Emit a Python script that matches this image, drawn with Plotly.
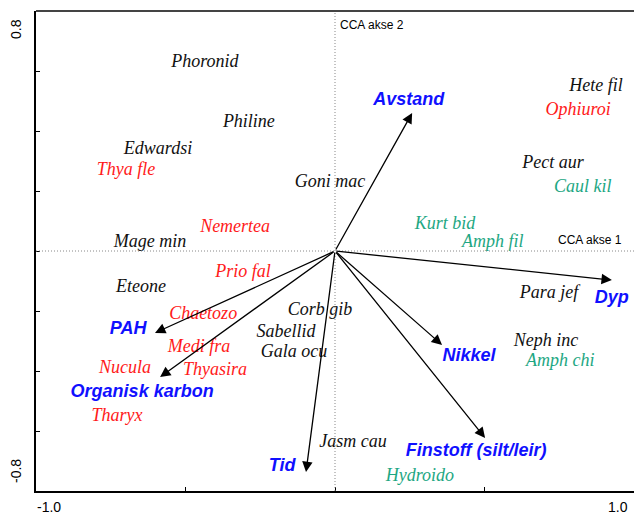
import plotly.graph_objects as go

# species scores (CCA axis 1, axis 2)
species = ["Phoronid", "Philine", "Edwardsi", "Thya fle", "Goni mac", "Nemertea",
           "Mage min", "Prio fal", "Eteone", "Chaetozo", "Corb gib", "Sabellid",
           "Medi fra", "Gala ocu", "Nucula", "Thyasira", "Tharyx", "Jasm cau",
           "Hydroido", "Hete fil", "Ophiuroi", "Pect aur", "Caul kil", "Kurt bid",
           "Amph fil", "Para jef", "Neph inc", "Amph chi"]
species_x = [-0.435, -0.288, -0.592, -0.699, -0.017, -0.334, -0.619, -0.308, -0.649,
             -0.441, -0.050, -0.164, -0.455, -0.137, -0.702, -0.401, -0.729, 0.060,
             0.284, 0.873, 0.813, 0.729, 0.829, 0.368, 0.528, 0.716, 0.706, 0.753]
species_y = [0.627, 0.427, 0.337, 0.270, 0.227, 0.077, 0.030, -0.070, -0.123,
             -0.213, -0.197, -0.273, -0.323, -0.337, -0.393, -0.397, -0.550, -0.637,
             -0.753, 0.547, 0.467, 0.293, 0.213, 0.090, 0.027, -0.140, -0.300, -0.367]
species_group = ["k", "k", "k", "r", "k", "r", "k", "r", "k", "r", "k", "k", "r", "k",
                 "r", "r", "r", "k", "g", "k", "r", "k", "g", "g", "g", "k", "k", "g"]

# environmental variables: arrow tips and label positions
env = ["Avstand", "Dyp", "PAH", "Organisk karbon", "Tid", "Nikkel", "Finstoff (silt/leir)"]
env_x = [0.258, 0.926, -0.602, -0.585, -0.097, 0.358, 0.502]
env_y = [0.460, -0.097, -0.273, -0.420, -0.737, -0.313, -0.623]
env_label_x = [0.247, 0.926, -0.692, -0.645, -0.177, 0.448, 0.472]
env_label_y = [0.503, -0.157, -0.260, -0.470, -0.717, -0.353, -0.667]

GROUP_COLOURS = {"k": "#111111", "r": "#ff1a1a", "g": "#1ea783"}

fig = go.Figure()

for grp, col in GROUP_COLOURS.items():
  idx = [i for i, g in enumerate(species_group) if g == grp]
  fig.add_trace(go.Scatter(
      x=[species_x[i] for i in idx], y=[species_y[i] for i in idx],
      text=[species[i] for i in idx], mode="text",
      textfont=dict(family="Liberation Serif", size=18, color=col, style="italic"),
      hoverinfo="skip", showlegend=False))

fig.add_trace(go.Scatter(
    x=env_label_x, y=env_label_y, text=env, mode="text",
    textfont=dict(family="Liberation Sans", size=18, color="#1010ff",
                  style="italic", weight="bold"),
    hoverinfo="skip", showlegend=False))

for ex, ey in zip(env_x, env_y):
  fig.add_annotation(x=ex, y=ey, ax=0, ay=0, xref="x", yref="y", axref="x", ayref="y",
                     text="", showarrow=True, arrowhead=2, arrowsize=1.6,
                     arrowwidth=1.3, arrowcolor="black")

# axis cross lines
fig.add_shape(type="line", x0=0, x1=0, y0=-0.8, y1=0.8,
              line=dict(color="#888888", width=1, dash="1px,2px"))
fig.add_shape(type="line", x0=-1, x1=1, y0=0, y1=0,
              line=dict(color="#888888", width=1, dash="1px,2px"))
# top border
fig.add_shape(type="line", xref="paper", yref="paper", x0=0, x1=1, y0=1, y1=1,
              line=dict(color="#444444", width=2))

fig.add_annotation(x=0.01, y=0.8, text="CCA akse 2", showarrow=False,
                   xanchor="left", yanchor="top", yshift=-5,
                   font=dict(family="Liberation Sans", size=12, color="black"))
fig.add_annotation(x=0.74, y=0, text="CCA akse 1", showarrow=False,
                   xanchor="left", yanchor="bottom", yshift=2,
                   font=dict(family="Liberation Sans", size=12, color="black"))

tick_font = dict(family="Liberation Sans", size=14, color="black")
fig.add_annotation(xref="paper", yref="paper", x=0, y=1, text="0.8", textangle=-90,
                   showarrow=False, xanchor="right", yanchor="top",
                   xshift=-10, yshift=-6, font=tick_font)
fig.add_annotation(xref="paper", yref="paper", x=0, y=0, text="-0.8", textangle=-90,
                   showarrow=False, xanchor="right", yanchor="bottom",
                   xshift=-10, yshift=6, font=tick_font)
fig.add_annotation(xref="paper", yref="paper", x=0, y=0, text="-1.0",
                   showarrow=False, xanchor="center", yanchor="top",
                   xshift=13, yshift=-6, font=tick_font)
fig.add_annotation(xref="paper", yref="paper", x=1, y=0, text="1.0",
                   showarrow=False, xanchor="center", yanchor="top",
                   xshift=-16, yshift=-6, font=tick_font)

fig.update_xaxes(range=[-1, 1], showgrid=False, zeroline=False, showline=True,
                 linecolor="black", linewidth=2, tickvals=[-1, -0.5, 0, 0.5, 1],
                 ticks="inside", ticklen=4, tickcolor="black", showticklabels=False)
fig.update_yaxes(range=[-0.8, 0.8], showgrid=False, zeroline=False, showline=True,
                 linecolor="black", linewidth=2,
                 tickvals=[-0.8, -0.6, -0.4, -0.2, 0, 0.2, 0.4, 0.6, 0.8],
                 ticks="inside", ticklen=4, tickcolor="black", showticklabels=False)

fig.update_layout(width=634, height=516, plot_bgcolor="white", paper_bgcolor="white",
                  margin=dict(l=36, r=0, t=11, b=25), showlegend=False)

fig.write_html("out.html", config={"displayModeBar": False},
               post_script="document.body.style.margin='0';")
